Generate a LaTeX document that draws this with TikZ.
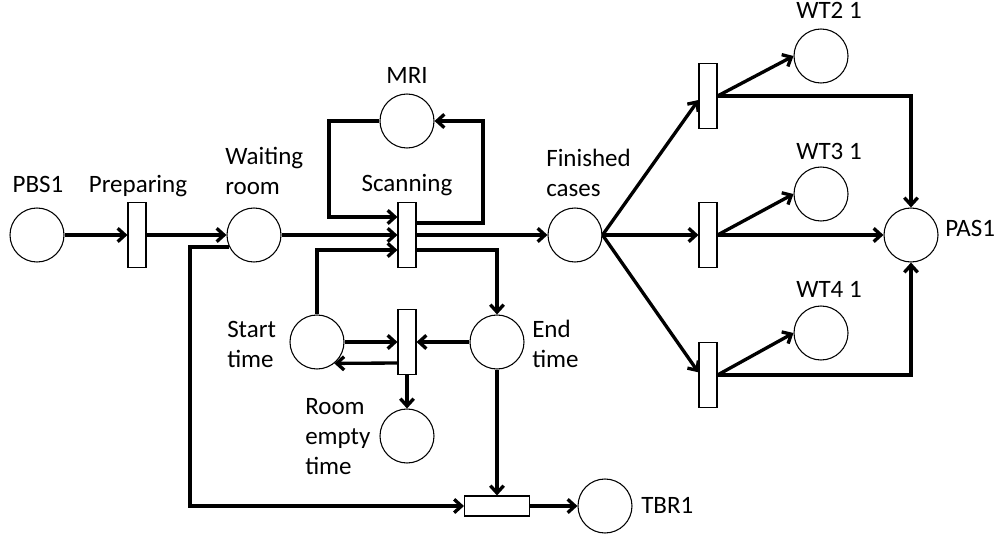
\documentclass[tikz,border=0pt]{standalone}
\usepackage{fontspec}
\setmainfont{Carlito}
\usetikzlibrary{arrows.meta}
\begin{document}
\begin{tikzpicture}[x=0.75pt,y=-0.75pt,
  place/.style={circle,draw,line width=0.8pt,minimum size=40.5pt,inner sep=0pt},
  trans/.style={rectangle,draw,line width=0.8pt,minimum width=13.5pt,minimum height=48.75pt,inner sep=0pt},
  htrans/.style={trans,minimum width=48.75pt,minimum height=15pt},
  lbl/.style={font=\fontsize{18.75}{22.5}\selectfont,inner sep=0pt,align=left},
  arc/.style={line width=2.5pt,-{Straight Barb[length=5.5pt,width=10pt]}}
]
\useasboundingbox (0,0) rectangle (998,538);

% places
\node[place] (pbs)   at (37,235)  {};
\node[place] (wait)  at (254,235) {};
\node[place] (mri)   at (407,121) {};
\node[place] (start) at (317,342) {};
\node[place] (end)   at (497,342) {};
\node[place] (empty) at (407,436) {};
\node[place] (tbro)  at (605,506) {};
\node[place] (fin)   at (575,235) {};
\node[place] (wt2)   at (821,56)  {};
\node[place] (wt3)   at (821,194) {};
\node[place] (wt4)   at (821,333) {};
\node[place] (pas)   at (911,235) {};

% transitions
\node[trans]  (prep)  at (137,235) {};
\node[trans]  (scan)  at (407,235) {};
\node[trans]  (roomt) at (407,342) {};
\node[htrans] (tbr)   at (497,506) {};
\node[trans]  (t1)    at (708,96)  {};
\node[trans]  (t2)    at (708,235) {};
\node[trans]  (t3)    at (708,375) {};

% labels (multi-line labels are anchored at the baseline of their last line)
\node[lbl,anchor=base] (lpbs) at (38,193) {PBS1};
\node[lbl,anchor=base] (lprep) at (138,193) {Preparing};
\node[lbl,anchor=base west] (lwait) at (225,195) {Waiting\\room};
\node[lbl,anchor=base] (lmri) at (407,84) {MRI};
\node[lbl,anchor=base] (lscan) at (407,192) {Scanning};
\node[lbl,anchor=base west] (lfin) at (546,197) {Finished\\cases};
\node[lbl,anchor=base west] (lstart) at (227,367) {Start\\time};
\node[lbl,anchor=base west] (lend) at (532,367) {End\\time};
\node[lbl,anchor=base west] (lempty) at (305,474) {Room\\empty\\time};
\node[lbl,anchor=base west] (ltbr) at (641,513) {TBR1};
\node[lbl,anchor=base west] (lwt2) at (796,19) {WT2 1};
\node[lbl,anchor=base west] (lwt3) at (796,160) {WT3 1};
\node[lbl,anchor=base west] (lwt4) at (796,297) {WT4 1};
\node[lbl,anchor=base west] (lpas) at (945,236) {PAS1};

% arcs
\draw[arc] (pbs) -- (prep);
\draw[arc] (prep) -- (wait);
\draw[arc] (wait) -- (scan);
\draw[arc] (mri.west) -| (329,217) -- (scan.west |- 0,217);
\draw[arc] (scan.east |- 0,223) -| (483,121) -- (mri.east);
\draw[arc] (start.north) |- (scan.west |- 0,250);
\draw[arc] (scan.east |- 0,250) -| (end.north);
\draw[arc] (scan) -- (fin);
\draw[arc] (start) -- (roomt);
\draw[arc] (roomt.west |- 0,363) -- (start.-51);
\draw[arc] (end) -- (roomt);
\draw[arc] (roomt) -- (empty);
\draw[arc] (end) -- (tbr);
\draw[arc] (wait.206) -| (190,506) -- (tbr.west);
\draw[arc] (tbr) -- (tbro);
\draw[arc] (fin.east) -- ([yshift=-3pt]t1.west);
\draw[arc] (fin.east) -- (t2.west);
\draw[arc] (fin.east) -- ([yshift=2pt]t3.west);
\draw[arc] (t1.east) -- (wt2.west);
\draw[arc] (t2.east) -- (wt3.west);
\draw[arc] (t3.east) -- (wt4.west);
\draw[arc] (t1.east) -| (pas.north);
\draw[arc] (t2.east) -- (pas.west);
\draw[arc] (t3.east) -| (pas.south);
\end{tikzpicture}
\end{document}
